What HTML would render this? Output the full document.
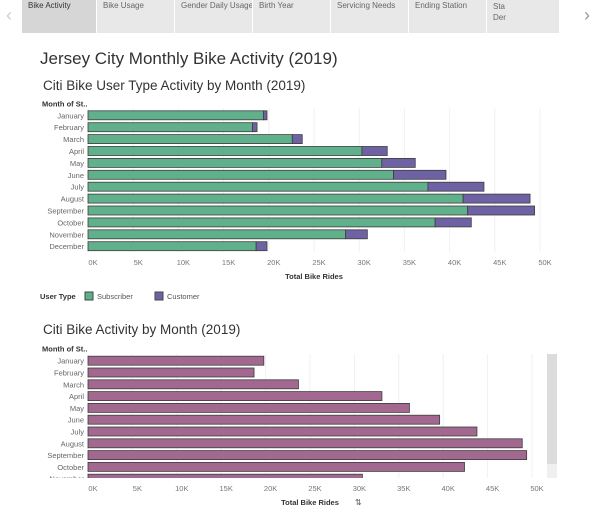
<!DOCTYPE html>
<html><head><meta charset="utf-8"><style>
body{margin:0;width:600px;height:514px;background:#fff;font-family:"Liberation Sans",sans-serif;overflow:hidden;position:relative}
.tab{position:absolute;top:0;height:33px;background:#e8e8e8;font-size:8px;color:#666;padding:1px 0 0 6px;box-sizing:border-box;border-right:1px solid #fff;white-space:nowrap;overflow:hidden}
</style></head><body>
<div>
<div class="tab" style="left:22px;width:75px;background:#d6d6d6;color:#333">Bike Activity</div>
<div class="tab" style="left:97px;width:78px">Bike Usage</div>
<div class="tab" style="left:175px;width:78px">Gender Daily Usage</div>
<div class="tab" style="left:253px;width:78px">Birth Year</div>
<div class="tab" style="left:331px;width:78px">Servicing Needs</div>
<div class="tab" style="left:409px;width:78px">Ending Station</div>
<div class="tab" style="left:487px;width:73px;line-height:11px">Sta<br>Der</div>
<div style="position:absolute;left:6px;top:5px;font-size:18px;color:#ccc">‹</div>
<div style="position:absolute;left:584px;top:5px;font-size:18px;color:#999">›</div>
</div>
<svg id="svg" width="600" height="514" style="position:absolute;left:0;top:0">
<text x="40" y="64" font-size="17" fill="#333">Jersey City Monthly Bike Activity (2019)</text>
<text x="43" y="90" font-size="13.5" fill="#333">Citi Bike User Type Activity by Month (2019)</text>
<text x="43" y="334" font-size="13.5" fill="#333">Citi Bike Activity by Month (2019)</text>
<g id="c1"></g>
<g id="c2"></g>
<text x="40" y="299" font-size="7.5" font-weight="bold" fill="#333">User Type</text>
<g><rect x="85" y="292" width="8" height="8" fill="#5bb08a" stroke="#444"/><text x="97" y="299" font-size="7.5" fill="#555">Subscriber</text></g>
<g><rect x="155" y="292" width="8" height="8" fill="#6f62a4" stroke="#444"/><text x="167" y="299" font-size="7.5" fill="#555">Customer</text></g>
<rect x="547" y="354" width="10" height="110" fill="#dcdcdc"/>
<rect x="547" y="464" width="10" height="14" fill="#f0f0f0"/>
<text x="355" y="505" font-size="8" fill="#555">⇅</text>
</svg>
<script>
const months=["January","February","March","April","May","June","July","August","September","October","November","December"];
const subscriber=[19.4,18.2,22.6,30.3,32.5,33.8,37.6,41.5,42.0,38.4,28.5,18.6];
const customer=[0.4,0.5,1.1,2.8,3.7,5.8,6.2,7.4,7.4,4.0,2.4,1.2];
const totals=[19.8,18.7,23.7,33.1,36.2,39.6,43.8,48.9,49.4,42.4,30.9,19.8];
const ticks=[0,5,10,15,20,25,30,35,40,45,50];
const NS="http://www.w3.org/2000/svg";
function mk(p,t,a,txt){const e=document.createElementNS(NS,t);for(const k in a)e.setAttribute(k,a[k]);if(txt!==undefined)e.textContent=txt;p.appendChild(e);return e;}
function chart(g,x0,x1,y0,step,clipBottom,axisY,titleY,stacked){
  const sx=v=>x0+v*(x1-x0)/50;
  const cid='clip'+g.id;
  const defs=mk(g,'defs',{});const cp=mk(defs,'clipPath',{id:cid});mk(cp,'rect',{x:0,y:y0-12,width:600,height:clipBottom-(y0-12)});
  ticks.forEach(t=>{const l=mk(g,'line',{x1:sx(t),x2:sx(t),y1:y0-7,y2:clipBottom,stroke:'#f0f0f0'});
    
    const tx=mk(g,'text',{x:sx(t)+5,y:axisY,'font-size':7.5,fill:'#777','text-anchor':'middle'},t+'K');
    });
  const hd=mk(g,'text',{x:42,y:y0-9,'font-size':7.5,'font-weight':'bold',fill:'#333'},'Month of St..');
  
  const cg=mk(g,'g',{'clip-path':'url(#'+cid+')'});
  months.forEach((m,i)=>{const yc=y0+i*step;
    const lb=mk(cg,'text',{x:84,y:yc+3,'font-size':7.5,fill:'#666','text-anchor':'end'},m);
    
    if(stacked){
      const a=mk(cg,'rect',{x:sx(0),y:yc-4.5,width:sx(subscriber[i])-sx(0),height:9,fill:'#5fb08b',stroke:'#3d3d3d','stroke-width':0.8});
      
      const b=mk(cg,'rect',{x:sx(subscriber[i]),y:yc-4.5,width:sx(subscriber[i]+customer[i])-sx(subscriber[i]),height:9,fill:'#6f62a4',stroke:'#3d3d3d','stroke-width':0.8});
      
    }else{
      const a=mk(cg,'rect',{x:sx(0),y:yc-4.5,width:sx(totals[i])-sx(0),height:9,fill:'#a2688f',stroke:'#3d3d3d','stroke-width':0.8});
      
    }});
  const at=mk(g,'text',{x:(x0+x1)/2,y:titleY,'font-size':7.5,'font-weight':'bold',fill:'#333','text-anchor':'middle'},'Total Bike Rides');
  
}
chart(document.getElementById('c1'),88,540,115.3,11.9,252,265,279,true);
chart(document.getElementById('c2'),88,532,360.7,11.8,478,491,505,false);
</script>
</body></html>
